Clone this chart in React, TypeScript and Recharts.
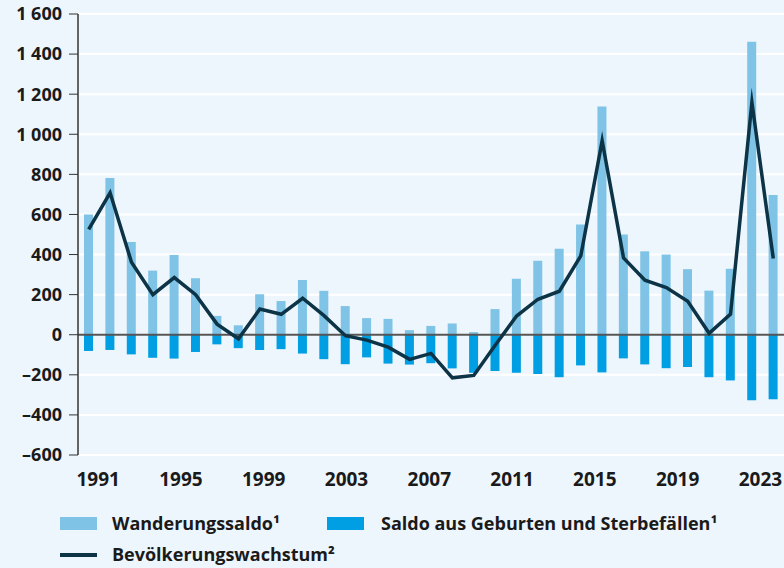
import { ComposedChart, Bar, Line, XAxis, YAxis, CartesianGrid, ReferenceLine } from 'recharts';

const years = [
  '1991', '1992', '1993', '1994', '1995', '1996', '1997', '1998', '1999', '2000', '2001',
  '2002', '2003', '2004', '2005', '2006', '2007', '2008', '2009', '2010', '2011', '2012',
  '2013', '2014', '2015', '2016', '2017', '2018', '2019', '2020', '2021', '2022', '2023',
];

// Wanderungssaldo (in 1000)
const wanderung = [
  600, 782, 462, 320, 398, 282, 94, 47, 202, 168, 273,
  219, 143, 83, 79, 23, 44, 56, 13, 128, 279, 369,
  429, 550, 1139, 500, 416, 400, 327, 220, 329, 1462, 697,
];

// Saldo aus Geburten und Sterbefällen (in 1000)
const natuerlich = [
  -81, -76, -98, -115, -119, -86, -48, -67, -76, -72, -94,
  -122, -147, -113, -144, -149, -142, -168, -190, -181, -190, -196,
  -212, -153, -188, -118, -148, -167, -161, -212, -228, -327, -322,
];

// Bevölkerungswachstum (in 1000)
const wachstum = [
  525, 708, 362, 200, 285, 200, 53, -20, 128, 102, 182,
  95, -5, -27, -62, -123, -93, -215, -203, -53, 93, 177,
  217, 393, 968, 383, 272, 235, 167, 7, 103, 1160, 380,
];

const yTicks = [-600, -400, -200, 0, 200, 400, 600, 800, 1000, 1200, 1400, 1600];

const data = years.map((year, i) => ({
  year,
  wanderung: wanderung[i],
  natuerlich: natuerlich[i],
  wachstum: wachstum[i],
}));

const FONT = '"Open Sans", "Noto Sans", sans-serif';
const TEXT = '#1a1a1a';
const C_WANDERUNG = '#7fc3e6';
const C_NATUERLICH = '#009ee2';
const C_WACHSTUM = '#0c3446';

function formatY(v: number) {
  const s = String(Math.abs(v));
  const f = s.length > 3 ? s.slice(0, -3) + '\u00A0' + s.slice(-3) : s;
  return v < 0 ? '\u2013' + f : f;
}

// year labels sit on a slightly narrower spacing than the bars
function YearTick(props: any) {
  const { x, y, payload } = props;
  const i = years.indexOf(String(payload.value));
  const dx = 9.5 - 0.7 * i;
  return (
    <text x={x + dx} y={y} dy="0.71em" textAnchor="middle" fontSize={19} fontWeight={700} fill={TEXT} fontFamily={FONT}>
      {payload.value}
    </text>
  );
}

const legendText = {
  position: 'absolute' as const,
  fontSize: 18,
  fontWeight: 700,
  lineHeight: '20px',
  color: TEXT,
  whiteSpace: 'nowrap' as const,
};

export default function App() {
  return (
    <div style={{ position: 'absolute', left: 0, top: 0, width: 784, height: 568, background: '#eef6fd', fontFamily: FONT }}>
      <ComposedChart
        width={784}
        height={500}
        data={data}
        stackOffset="sign"
        margin={{ top: 14, right: 0, bottom: 5, left: 0 }}
      >
        <CartesianGrid vertical={false} stroke="#ffffff" strokeWidth={2} />
        <XAxis
          dataKey="year"
          interval={3}
          axisLine={false}
          tickLine={false}
          tickSize={0}
          tickMargin={18}
          height={40}
          tick={<YearTick />}
        />
        <YAxis
          domain={[-600, 1600]}
          ticks={yTicks}
          width={78}
          tickSize={9}
          tickMargin={7}
          interval={0}
          tickFormatter={formatY}
          axisLine={{ stroke: '#333', strokeWidth: 1.5 }}
          tickLine={{ stroke: '#333' }}
          tick={{ fontSize: 18, fontWeight: 700, fill: TEXT, fontFamily: FONT }}
        />
        <Bar dataKey="wanderung" stackId="a" fill={C_WANDERUNG} barSize={9} isAnimationActive={false} />
        <Bar dataKey="natuerlich" stackId="a" fill={C_NATUERLICH} barSize={9} isAnimationActive={false} />
        <ReferenceLine y={0} stroke="#555" strokeWidth={2} />
        <Line
          type="linear"
          dataKey="wachstum"
          stroke={C_WACHSTUM}
          strokeWidth={3.5}
          strokeMiterlimit={10}
          dot={false}
          isAnimationActive={false}
        />
      </ComposedChart>

      <div style={{ position: 'absolute', left: 60, top: 517, width: 37, height: 13, background: C_WANDERUNG }} />
      <span style={{ ...legendText, left: 112, top: 513 }}>Wanderungssaldo¹</span>
      <div style={{ position: 'absolute', left: 327, top: 517, width: 37, height: 13, background: C_NATUERLICH }} />
      <span style={{ ...legendText, left: 381, top: 513 }}>Saldo aus Geburten und Sterbefällen¹</span>
      <div style={{ position: 'absolute', left: 60, top: 553, width: 37, height: 4, background: C_WACHSTUM }} />
      <span style={{ ...legendText, left: 112, top: 544 }}>Bevölkerungswachstum²</span>
    </div>
  );
}
